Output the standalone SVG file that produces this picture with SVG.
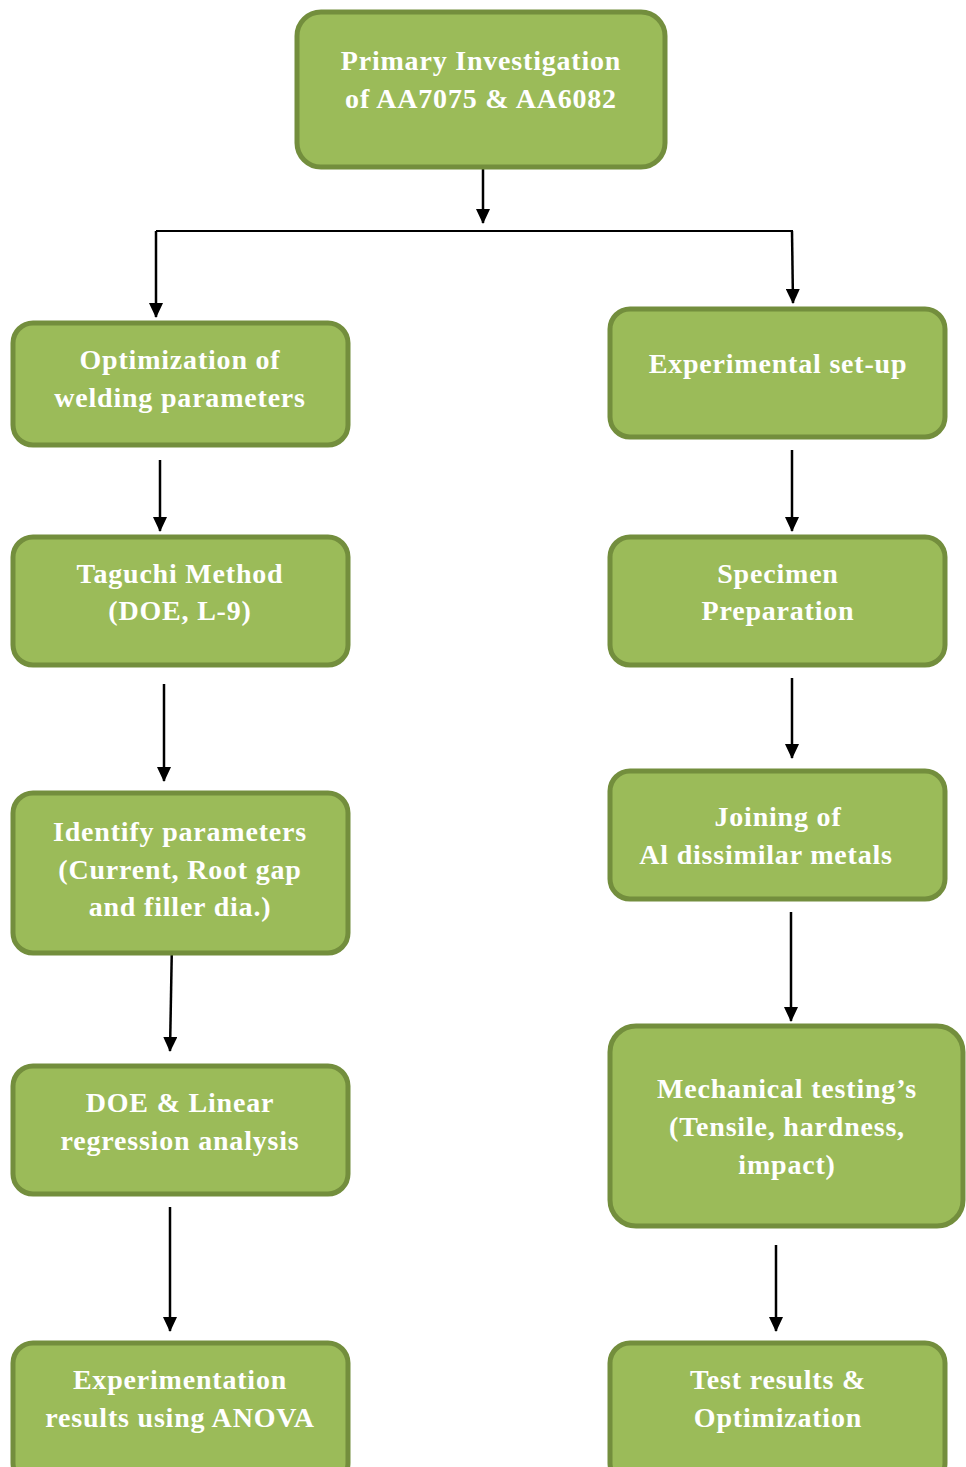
<svg xmlns="http://www.w3.org/2000/svg" width="966" height="1467" viewBox="0 0 966 1467">
<defs>
<marker id="ah" markerWidth="15" markerHeight="14" refX="14" refY="7" orient="auto" markerUnits="userSpaceOnUse" viewBox="0 0 15 14">
<path d="M0,0 L15,7 L0,14 z" fill="#000"/>
</marker>
<style>
.box{fill:#9BBB59;stroke:#738E3D;stroke-width:5}
.t{font-family:"Liberation Serif","Times New Roman",serif;font-weight:bold;font-size:28px;fill:#fff;text-anchor:middle;letter-spacing:0.8px}
.c{stroke:#000;stroke-width:2.5;fill:none}
.a{marker-end:url(#ah)}
</style>
</defs>
<rect width="966" height="1467" fill="#fff"/>
<g id="connectors">
<line class="c a" x1="483" y1="168" x2="483" y2="223"/>
<line x1="156" y1="231" x2="793" y2="231" stroke="#000" stroke-width="2"/>
<line class="c a" x1="156" y1="231" x2="156" y2="317"/>
<line class="c a" x1="792" y1="231" x2="793" y2="303"/>
<line class="c a" x1="160" y1="460" x2="160" y2="531"/>
<line class="c a" x1="164" y1="684" x2="164" y2="781"/>
<line class="c a" x1="172" y1="940" x2="170" y2="1051"/>
<line class="c a" x1="170" y1="1207" x2="170" y2="1331"/>
<line class="c a" x1="792" y1="450" x2="792" y2="531"/>
<line class="c a" x1="792" y1="678" x2="792" y2="758"/>
<line class="c a" x1="791" y1="912" x2="791" y2="1021"/>
<line class="c a" x1="776" y1="1245" x2="776" y2="1331"/>
</g>
<g id="n-primary">
<rect class="box" x="297" y="12" width="368" height="155" rx="24"/>
<text class="t" x="481" y="70">Primary Investigation</text>
<text class="t" x="481" y="108">of AA7075 &amp; AA6082</text>
</g>
<g id="n-optim">
<rect class="box" x="13" y="323" width="335" height="122" rx="20"/>
<text class="t" x="180" y="369">Optimization of</text>
<text class="t" x="180" y="407">welding parameters</text>
</g>
<g id="n-setup">
<rect class="box" x="610" y="309" width="335" height="128" rx="20"/>
<text class="t" x="778" y="373">Experimental set-up</text>
</g>
<g id="n-taguchi">
<rect class="box" x="13" y="537" width="335" height="128" rx="20"/>
<text class="t" x="180" y="583">Taguchi Method</text>
<text class="t" x="180" y="620">(DOE, L-9)</text>
</g>
<g id="n-specimen">
<rect class="box" x="610" y="537" width="335" height="128" rx="20"/>
<text class="t" x="778" y="583">Specimen</text>
<text class="t" x="778" y="620">Preparation</text>
</g>
<g id="n-identify">
<rect class="box" x="13" y="793" width="335" height="160" rx="20"/>
<text class="t" x="180" y="841">Identify parameters</text>
<text class="t" x="180" y="879">(Current, Root gap</text>
<text class="t" x="180" y="916">and filler dia.)</text>
</g>
<g id="n-joining">
<rect class="box" x="610" y="771" width="335" height="128" rx="20"/>
<text class="t" x="778" y="826">Joining of</text>
<text class="t" x="766" y="864">Al dissimilar metals</text>
</g>
<g id="n-doe">
<rect class="box" x="13" y="1066" width="335" height="128" rx="20"/>
<text class="t" x="180" y="1112">DOE &amp; Linear</text>
<text class="t" x="180" y="1150">regression analysis</text>
</g>
<g id="n-mech">
<rect class="box" x="610" y="1026" width="353" height="200" rx="26"/>
<text class="t" x="787" y="1098">Mechanical testing’s</text>
<text class="t" x="787" y="1136">(Tensile, hardness,</text>
<text class="t" x="787" y="1174">impact)</text>
</g>
<g id="n-anova">
<rect class="box" x="13" y="1343" width="335" height="140" rx="20"/>
<text class="t" x="180" y="1389">Experimentation</text>
<text class="t" x="180" y="1427">results using ANOVA</text>
</g>
<g id="n-test">
<rect class="box" x="610" y="1343" width="335" height="140" rx="20"/>
<text class="t" x="778" y="1389">Test results &amp;</text>
<text class="t" x="778" y="1427">Optimization</text>
</g>
</svg>
